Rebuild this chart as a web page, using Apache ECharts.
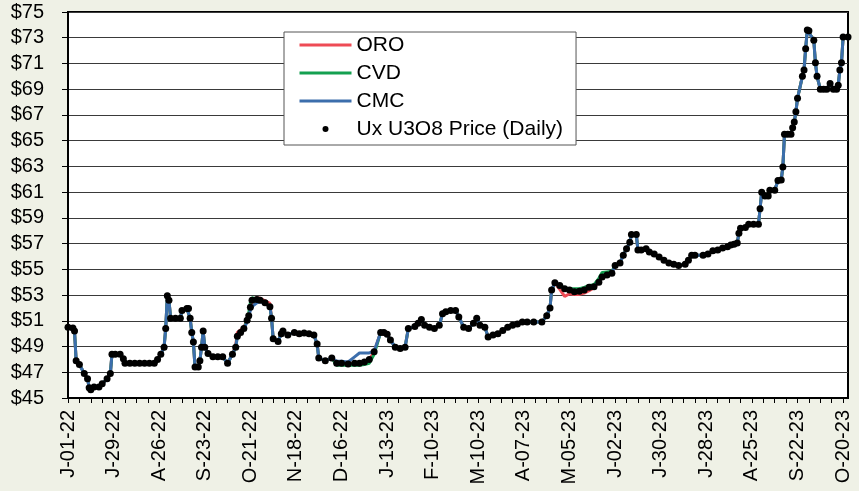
<!DOCTYPE html>
<html>
<head>
<meta charset="utf-8">
<title>Ux U3O8 Price</title>
<script src="https://cdn.jsdelivr.net/npm/echarts@6/dist/echarts.min.js"></script>
<style>
  html, body { margin: 0; padding: 0; background: #eff1e6; }
  #chart { width: 859px; height: 491px; }
</style>
</head>
<body>
<div id="chart"></div>
<script>
// days counted from 2022-07-01
var days = [
  0, 3, 4, 5, 7, 10, 12, 13, 14, 16,
  19, 21, 24, 26, 27, 29, 32, 34, 35, 38,
  41, 44, 47, 50, 53, 55, 57, 59, 60, 61,
  62, 63, 66, 69, 70, 73, 74, 75, 76, 77,
  78, 80, 81, 82, 83, 84, 86, 89, 92, 95,
  98, 101, 103, 104, 106, 108, 110, 111, 112, 113,
  116, 118, 121, 124, 125, 126, 129, 131, 132, 135,
  139, 142, 145, 148, 151, 153, 154, 158, 162, 165,
  168, 172, 176, 179, 182, 185, 188, 192, 194, 196,
  198, 201, 204, 207, 209, 213, 215, 217, 219, 222,
  225, 228, 230, 232, 235, 238, 240, 243, 246, 249,
  251, 253, 256, 258, 261, 264, 267, 270, 273, 276,
  279, 282, 286, 291, 294, 296, 297, 299, 302, 305,
  308, 311, 314, 317, 320, 323, 326, 328, 331, 334,
  336, 339, 341, 343, 345, 346, 349, 350, 352, 355,
  357, 360, 363, 366, 369, 372, 375, 379, 381, 383,
  385, 390, 393, 396, 399, 402, 405, 407, 409, 411,
  412, 413, 416, 418, 421, 424, 425, 426, 428, 430,
  431, 434, 436, 438, 439, 440, 442, 444, 445, 446,
  447, 448, 451, 452, 453, 454, 455, 458, 459, 460,
  462, 464, 466, 468, 470, 472, 473, 474, 475, 476, 479
]

// Ux U3O8 daily price
var price = [
  50.5, 50.45, 50.2, 47.9, 47.6, 46.9, 46.5, 45.8, 45.65, 45.85,
  45.85, 46.1, 46.5, 46.9, 48.4, 48.4, 48.4, 48.05, 47.7, 47.7,
  47.7, 47.7, 47.7, 47.7, 47.7, 48.0, 48.4, 48.95, 50.4, 52.95,
  52.6, 51.2, 51.2, 51.2, 51.8, 51.95, 51.95, 51.2, 50.1, 49.35,
  47.4, 47.4, 47.9, 48.95, 50.2, 48.95, 48.45, 48.2, 48.2, 48.2,
  47.7, 48.4, 48.95, 49.8, 50.1, 50.4, 51.05, 51.4, 52.05, 52.6,
  52.65, 52.6, 52.4, 52.1, 51.2, 49.6, 49.4, 50.0, 50.2, 49.9,
  50.1, 50.0, 50.05, 50.0, 49.9, 49.2, 48.1, 47.9, 48.1, 47.7,
  47.7, 47.65, 47.7, 47.7, 47.8, 48.0, 48.6, 50.1, 50.1, 49.95,
  49.5, 48.95, 48.85, 48.95, 50.4, 50.55, 50.8, 51.1, 50.65, 50.5,
  50.4, 50.65, 51.55, 51.7, 51.8, 51.8, 51.3, 50.5, 50.4, 50.8,
  51.2, 50.65, 50.5, 49.75, 49.9, 50.0, 50.25, 50.5, 50.65, 50.75,
  50.9, 50.9, 50.9, 50.9, 51.4, 52.0, 53.4, 53.95, 53.75, 53.5,
  53.4, 53.25, 53.3, 53.4, 53.6, 53.65, 54.0, 54.4, 54.55, 54.7,
  55.3, 55.5, 56.1, 56.6, 57.1, 57.7, 57.7, 56.5, 56.5, 56.6,
  56.35, 56.2, 55.95, 55.7, 55.5, 55.4, 55.3, 55.4, 55.7, 56.1,
  56.1, 56.1, 56.2, 56.45, 56.5, 56.65, 56.75, 56.9, 56.95, 57.05,
  57.8, 58.2, 58.25, 58.5, 58.5, 58.5, 59.7, 61.0, 60.7, 60.7,
  61.15, 61.15, 61.9, 61.95, 62.95, 65.5, 65.5, 65.5, 66.0, 66.45,
  67.25, 68.3, 70.0, 70.5, 72.15, 73.6, 73.55, 72.8, 71.05, 70.0,
  69.0, 69.0, 69.0, 69.45, 69.0, 69.0, 69.3, 70.5, 71.05, 73.05, 73.05
]

var oro = [
  50.5, 50.45, 50.2, 47.9, 47.6, 46.9, 46.5, 45.8, 45.65, 45.85,
  45.85, 46.1, 46.5, 46.9, 48.4, 48.4, 48.4, 48.05, 47.7, 47.7,
  47.7, 47.7, 47.7, 47.7, 47.7, 48.0, 48.4, 48.95, 50.4, 52.95,
  52.6, 51.2, 51.2, 51.2, 51.8, 51.95, 51.95, 51.2, 50.1, 49.35,
  47.4, 47.4, 47.9, 48.95, 50.2, 48.95, 48.45, 48.2, 48.2, 48.2,
  47.7, 48.4, 49.1, 50.1, 50.3, 50.5, 51.05, 51.4, 52.05, 52.6,
  52.8, 52.75, 52.55, 52.35, 51.2, 49.6, 49.4, 50.0, 50.2, 49.9,
  50.1, 50.0, 50.05, 50.0, 49.9, 49.2, 48.1, 47.9, 48.1, 47.7,
  47.7, 47.65, 47.7, 47.7, 47.8, 48.0, 48.6, 50.1, 50.1, 49.95,
  49.5, 48.95, 48.85, 48.95, 50.4, 50.55, 50.8, 51.1, 50.65, 50.5,
  50.4, 50.65, 51.55, 51.7, 51.8, 51.8, 51.3, 50.5, 50.4, 50.8,
  51.2, 50.65, 50.5, 49.75, 49.9, 50.0, 50.25, 50.5, 50.65, 50.75,
  50.9, 50.9, 50.9, 50.9, 51.4, 52.0, 53.4, 53.95, 53.45, 52.9,
  53.1, 53.05, 53.05, 53.15, 53.35, 53.55, 54.0, 54.4, 54.55, 54.7,
  55.3, 55.5, 56.1, 56.6, 57.1, 57.7, 57.7, 56.5, 56.5, 56.6,
  56.35, 56.2, 55.95, 55.7, 55.5, 55.4, 55.3, 55.4, 55.7, 56.1,
  56.1, 56.1, 56.2, 56.45, 56.5, 56.65, 56.75, 56.9, 56.95, 57.05,
  57.8, 58.2, 58.25, 58.5, 58.5, 58.5, 59.7, 61.0, 60.7, 60.7,
  61.15, 61.15, 61.9, 61.95, 62.95, 65.5, 65.5, 65.5, 66.0, 66.45,
  67.25, 68.3, 70.0, 70.5, 72.15, 73.6, 73.55, 72.8, 71.05, 70.0,
  69.0, 69.0, 69.0, 69.45, 69.0, 69.0, 69.3, 70.5, 71.05, 73.05, 73.05
]

var cvd = [
  50.5, 50.45, 50.2, 47.9, 47.6, 46.9, 46.5, 45.8, 45.65, 45.85,
  45.85, 46.1, 46.5, 46.9, 48.4, 48.4, 48.4, 48.05, 47.7, 47.7,
  47.7, 47.7, 47.7, 47.7, 47.7, 48.0, 48.4, 48.95, 50.4, 52.95,
  52.6, 51.2, 51.2, 51.2, 51.8, 51.95, 51.95, 51.2, 50.1, 49.35,
  47.4, 47.4, 47.9, 48.95, 50.2, 48.95, 48.45, 48.2, 48.2, 48.2,
  47.7, 48.4, 48.95, 49.8, 50.1, 50.4, 51.05, 51.6, 52.45, 52.8,
  52.7, 52.6, 52.4, 52.1, 51.2, 49.6, 49.4, 50.0, 50.2, 49.9,
  50.1, 50.0, 50.05, 50.0, 49.9, 49.2, 48.1, 47.9, 48.1, 47.55,
  47.55, 47.55, 47.55, 47.55, 47.6, 47.7, 48.4, 50.1, 50.1, 49.95,
  49.5, 48.95, 48.85, 48.95, 50.4, 50.55, 50.8, 51.1, 50.65, 50.5,
  50.4, 50.65, 51.55, 51.7, 51.8, 51.8, 51.3, 50.5, 50.4, 50.8,
  51.2, 50.65, 50.5, 49.75, 49.9, 50.0, 50.25, 50.5, 50.65, 50.75,
  50.9, 50.9, 50.9, 50.9, 51.4, 52.0, 53.4, 53.95, 53.75, 53.55,
  53.5, 53.5, 53.5, 53.6, 53.75, 53.8, 54.3, 54.75, 54.8, 54.85,
  55.3, 55.5, 56.1, 56.6, 57.1, 57.7, 57.7, 56.5, 56.5, 56.6,
  56.35, 56.2, 55.95, 55.7, 55.5, 55.4, 55.3, 55.4, 55.7, 56.1,
  56.1, 56.1, 56.2, 56.45, 56.5, 56.65, 56.75, 56.9, 56.95, 57.05,
  57.8, 58.2, 58.25, 58.5, 58.5, 58.5, 59.7, 61.0, 60.7, 60.7,
  61.15, 61.15, 61.9, 61.95, 62.95, 65.5, 65.5, 65.5, 66.0, 66.45,
  67.25, 68.3, 70.0, 70.5, 72.15, 73.6, 73.55, 72.8, 71.05, 70.0,
  69.0, 69.0, 69.0, 69.45, 69.0, 69.0, 69.3, 70.5, 71.05, 73.05, 73.05
]

var cmc = [
  50.5, 50.45, 50.2, 47.9, 47.6, 46.9, 46.5, 45.8, 45.65, 45.85,
  45.85, 46.1, 46.5, 46.9, 48.4, 48.4, 48.4, 48.05, 47.7, 47.7,
  47.7, 47.7, 47.7, 47.7, 47.7, 48.0, 48.4, 48.95, 50.4, 52.95,
  52.6, 51.2, 51.2, 51.2, 51.8, 51.95, 51.95, 51.2, 50.1, 49.35,
  47.4, 47.4, 47.9, 48.95, 50.2, 48.95, 48.45, 48.2, 48.2, 48.2,
  47.7, 48.4, 48.95, 49.8, 50.1, 50.4, 50.9, 51.3, 51.8, 52.1,
  52.4, 52.5, 52.35, 52.1, 51.2, 49.6, 49.4, 50.0, 50.2, 49.9,
  50.1, 50.0, 50.05, 50.0, 49.9, 49.2, 48.1, 47.9, 48.1, 47.85,
  47.85, 47.8, 48.2, 48.5, 48.5, 48.5, 48.65, 50.1, 50.1, 49.95,
  49.5, 48.95, 48.85, 48.95, 50.4, 50.55, 50.8, 51.1, 50.65, 50.5,
  50.4, 50.65, 51.55, 51.7, 51.8, 51.8, 51.3, 50.5, 50.4, 50.8,
  51.2, 50.65, 50.5, 49.75, 49.9, 50.0, 50.25, 50.5, 50.65, 50.75,
  50.9, 50.9, 50.9, 50.9, 51.4, 52.0, 53.4, 53.95, 53.75, 53.5,
  53.4, 53.25, 53.3, 53.4, 53.6, 53.65, 54.0, 54.4, 54.55, 54.7,
  55.3, 55.5, 56.1, 56.6, 57.1, 57.7, 57.7, 56.5, 56.5, 56.6,
  56.35, 56.2, 55.95, 55.7, 55.5, 55.4, 55.3, 55.4, 55.7, 56.1,
  56.1, 56.1, 56.2, 56.45, 56.5, 56.65, 56.75, 56.9, 56.95, 57.05,
  57.8, 58.2, 58.25, 58.5, 58.5, 58.5, 59.7, 61.0, 60.7, 60.7,
  61.15, 61.15, 61.9, 61.95, 62.95, 65.5, 65.5, 65.5, 66.0, 66.45,
  67.25, 68.3, 70.0, 70.5, 72.15, 73.6, 73.55, 72.8, 71.05, 70.0,
  69.0, 69.0, 69.0, 69.45, 69.0, 69.0, 69.3, 70.5, 71.05, 73.05, 73.05
]

var FONT = 'Liberation Sans, Arial, sans-serif'
var START = Date.UTC(2022, 6, 1)
var MONTHS = 'JFMAMJJASOND'

// label every 4 weeks, e.g. "J-01-22"
function dayLabel(d) {
  if (d % 28 !== 0) return ''
  var dt = new Date(START + d * 86400000)
  var dd = ('0' + dt.getUTCDate()).slice(-2)
  var yy = ('' + dt.getUTCFullYear()).slice(-2)
  return MONTHS[dt.getUTCMonth()] + '-' + dd + '-' + yy
}

function pairs(vals) {
  return days.map(function(d, i) { return [d, vals[i]] })
}

function lineSeries(name, vals, color) {
  return {
    name: name,
    type: 'line',
    data: pairs(vals),
    showSymbol: false,
    symbol: 'none',
    z: 2,
    lineStyle: { color: color, width: 3 },
    itemStyle: { color: color }
  }
}

var chart = echarts.init(document.getElementById('chart'))
chart.setOption({
  animation: false,
  backgroundColor: '#eff1e6',
  textStyle: { fontFamily: FONT, color: '#000' },
  grid: {
    left: 68, right: 11, top: 12, bottom: 93,
    show: true,
    backgroundColor: '#fff',
    borderColor: '#000',
    borderWidth: 2,
    outerBoundsMode: 'none',
    containLabel: false
  },
  legend: {
    orient: 'vertical',
    left: 284,
    top: 32,
    padding: [2, 13, 5, 14],
    itemGap: 6,
    itemWidth: 52,
    itemHeight: 6,
    backgroundColor: '#fff',
    borderColor: '#555',
    borderWidth: 1,
    lineStyle: { width: 3 },
    textStyle: { fontFamily: FONT, fontSize: 21, lineHeight: 22, color: '#000' },
    data: [
      { name: 'ORO', itemStyle: { opacity: 0 } },
      { name: 'CVD', itemStyle: { opacity: 0 } },
      { name: 'CMC', itemStyle: { opacity: 0 } },
      { name: 'Ux U3O8 Price (Daily)', itemStyle: { color: '#000', opacity: 1 } }
    ]
  },
  xAxis: {
    type: 'value',
    min: 0,
    max: 479,
    interval: 7,
    axisLine: { lineStyle: { color: '#000', width: 2 } },
    axisTick: { show: true, length: 5, lineStyle: { color: '#000', width: 1 } },
    splitLine: { show: false },
    axisLabel: {
      rotate: 90,
      margin: 12,
      fontSize: 20,
      fontFamily: FONT,
      color: '#000',
      showMaxLabel: false,
      formatter: dayLabel
    }
  },
  yAxis: {
    type: 'value',
    min: 45,
    max: 75,
    interval: 2,
    axisLine: { show: true, lineStyle: { color: '#000', width: 2 } },
    axisTick: { show: true, length: 6, lineStyle: { color: '#000', width: 1 } },
    splitLine: { lineStyle: { color: '#3a3a3a', width: 1 } },
    axisLabel: {
      margin: 24,
      fontSize: 20,
      fontFamily: FONT,
      color: '#000',
      formatter: function(v) { return '$' + v }
    }
  },
  series: [
    lineSeries('ORO', oro, '#ee4b55'),
    lineSeries('CVD', cvd, '#14a050'),
    lineSeries('CMC', cmc, '#3c6eac'),
    {
      name: 'Ux U3O8 Price (Daily)',
      type: 'scatter',
      data: pairs(price),
      symbolSize: 7,
      z: 5,
      itemStyle: { color: '#000', opacity: 1 }
    }
  ]
})
</script>
</body>
</html>
